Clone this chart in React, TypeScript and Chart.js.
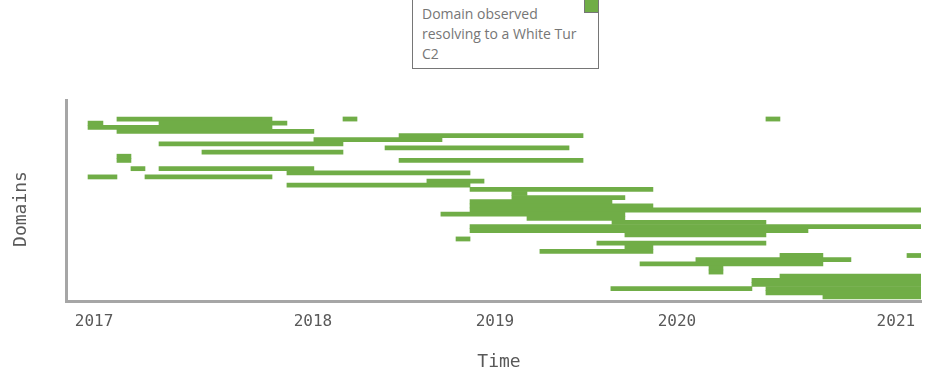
import { useEffect, useRef } from 'react';
import { Chart, registerables } from 'chart.js';

Chart.register(...registerables);

// ---- data -------------------------------------------------------------
const seriesLabel = 'Domain observed resolving to a White Tur C2';
const legendLines = ['Domain observed', 'resolving to a White Tur', 'C2'];
const xTitle = 'Time';
const yTitle = 'Domains';

// x-axis tick positions (decimal years) and their labels
const tickYears = [2016.797, 2018, 2019, 2020, 2021.203];
const tickLabels = ['2017', '2018', '2019', '2020', '2021'];
const xMin = 2016.643;
const xMax = 2021.341;

// domain rows (0 = top)
const rowMin = -4.6;
const rowMax = 44;

// one entry per observed interval: row, start (decimal year), end (decimal year)
const segRow = [
  0, 0, 0,
  1, 1,
  2,
  3,
  4,
  5,
  6,
  7,
  8,
  9,
  10, 10,
  12, 12,
  13,
  14, 14,
  15,
  16,
  17,
  18,
  19,
  20,
  21,
  22,
  23,
  24,
  25,
  26,
  27,
  28,
  29,
  30,
  31,
  32,
  33, 33,
  34,
  35,
  36,
  37,
  38,
  39,
  40,
  41, 41,
  42,
  43,
];
const segStart = [
  2016.923, 2018.165, 2020.489,
  2016.764, 2017.154,
  2016.764,
  2016.923,
  2018.473,
  2018.005,
  2017.154,
  2018.396,
  2017.390,
  2016.923,
  2016.923, 2018.473,
  2017.000, 2017.154,
  2017.857,
  2016.764, 2017.077,
  2018.626,
  2017.857,
  2018.863,
  2019.093,
  2019.093,
  2018.863,
  2018.863,
  2018.863,
  2018.703,
  2019.176,
  2019.643,
  2018.863,
  2018.863,
  2019.714,
  2018.786,
  2019.560,
  2019.714,
  2019.247,
  2020.566, 2021.264,
  2020.104,
  2019.797,
  2020.176,
  2020.176,
  2020.566,
  2020.412,
  2020.412,
  2019.637, 2020.489,
  2020.489,
  2020.802,
];
const segEnd = [
  2017.775, 2018.242, 2020.566,
  2016.846, 2017.857,
  2017.775,
  2018.005,
  2019.484,
  2018.709,
  2018.165,
  2019.407,
  2018.165,
  2017.000,
  2017.000, 2019.484,
  2017.077, 2018.005,
  2018.863,
  2016.923, 2017.775,
  2018.940,
  2018.863,
  2019.868,
  2019.176,
  2019.714,
  2019.643,
  2019.868,
  2021.341,
  2019.714,
  2019.714,
  2020.489,
  2021.341,
  2020.720,
  2020.489,
  2018.863,
  2020.489,
  2019.868,
  2019.868,
  2020.802, 2021.341,
  2020.956,
  2020.802,
  2020.253,
  2020.253,
  2021.341,
  2021.341,
  2021.341,
  2020.412, 2021.341,
  2021.341,
  2021.341,
];

// ---- styles -----------------------------------------------------------
const BAR_COLOR = '#70AD47';
const AXIS_COLOR = '#a6a6a6';
const TEXT_COLOR = '#595959';
const MONO = '"DejaVu Sans Mono", "Liberation Mono", monospace';

const axisTitlePlugin = {
  id: 'axisTitlePlugin',
  afterDraw(chart: any) {
    const { ctx } = chart;
    ctx.save();
    ctx.fillStyle = TEXT_COLOR;
    ctx.font = `18px ${MONO}`;
    ctx.textAlign = 'center';
    ctx.textBaseline = 'middle';
    ctx.fillText(xTitle, 499, 362);
    ctx.translate(21, 209);
    ctx.rotate(-Math.PI / 2);
    ctx.fillText(yTitle, 0, 0);
    ctx.restore();
  },
};

export default function App() {
  const canvasRef = useRef<HTMLCanvasElement>(null);

  useEffect(() => {
    const canvas = canvasRef.current;
    if (!canvas) return;
    const chart = new Chart(canvas, {
      type: 'bar',
      data: {
        datasets: [
          {
            label: seriesLabel,
            data: segRow.map((r, i) => ({ x: [segStart[i], segEnd[i]], y: r })) as any,
            backgroundColor: BAR_COLOR,
            borderWidth: 0,
            borderSkipped: false,
            barPercentage: 1,
            categoryPercentage: 1,
          },
        ],
      },
      options: {
        indexAxis: 'y',
        animation: false,
        responsive: true,
        maintainAspectRatio: false,
        layout: { padding: { top: 100, right: 27, left: 0, bottom: 0 } },
        plugins: {
          legend: { display: false },
          tooltip: { enabled: false },
        },
        scales: {
          x: {
            type: 'linear',
            min: xMin,
            max: xMax,
            grid: { display: false, drawTicks: false },
            border: { display: true, color: AXIS_COLOR, width: 3 },
            ticks: {
              padding: 11,
              color: TEXT_COLOR,
              font: { family: MONO, size: 16 },
              autoSkip: false,
              maxRotation: 0,
              callback: (_v: any, i: number) => tickLabels[i] ?? '',
            },
            afterBuildTicks: (s: any) => {
              s.ticks = tickYears.map((v) => ({ value: v }));
            },
            afterFit: (s: any) => {
              s.height = 77;
            },
          },
          y: {
            type: 'linear',
            reverse: true,
            min: rowMin,
            max: rowMax,
            offset: false,
            grid: { display: false, drawTicks: false },
            border: { display: true, color: AXIS_COLOR, width: 3 },
            ticks: { display: false, stepSize: 1, includeBounds: false },
            afterFit: (s: any) => {
              s.width = 66;
            },
          },
        },
      } as any,
      plugins: [axisTitlePlugin],
    });
    return () => chart.destroy();
  }, []);

  return (
    <div
      style={{
        position: 'fixed',
        left: 0,
        top: 0,
        width: 948,
        height: 378,
        background: '#ffffff',
      }}
    >
      <canvas ref={canvasRef} style={{ display: 'block' }} />
      <div
        style={{
          position: 'absolute',
          left: 412,
          top: -1,
          width: 187,
          height: 70,
          boxSizing: 'border-box',
          border: '1px solid #767676',
          background: '#ffffff',
          padding: '4px 0 0 9px',
          fontFamily: '"Open Sans", "Noto Sans", sans-serif',
          fontSize: 14,
          lineHeight: '20px',
          color: '#767676',
          whiteSpace: 'nowrap',
        }}
      >
        {legendLines.map((l) => (
          <div key={l}>{l}</div>
        ))}
        <div
          style={{
            position: 'absolute',
            right: -1,
            top: -1,
            width: 15,
            height: 14,
            boxSizing: 'border-box',
            background: BAR_COLOR,
            border: '1px solid #767676',
          }}
        />
      </div>
    </div>
  );
}
